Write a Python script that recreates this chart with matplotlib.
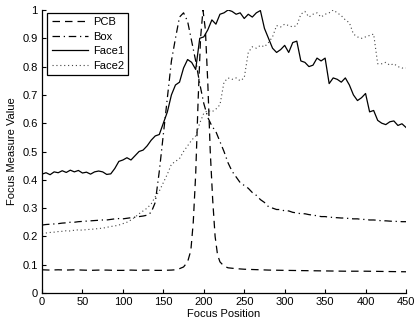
import numpy as np
import matplotlib
matplotlib.use("Agg")
import matplotlib.pyplot as plt

plt.rcParams['font.family'] = ['Liberation Sans', 'DejaVu Sans']

x = list(range(0, 451, 5))

pcb_x = [0, 10, 20, 30, 40, 50, 60, 70, 80, 90, 100, 110, 120, 130, 140, 150, 160,
         165, 170, 175, 180, 184, 187, 190, 193, 196, 199, 202, 205, 208, 211, 214,
         217, 220, 225, 230, 240, 250, 260, 280, 300, 325, 350, 375, 400, 425, 450]
pcb = [0.082, 0.081, 0.082, 0.081, 0.082, 0.081, 0.080, 0.081, 0.081, 0.080, 0.080,
       0.081, 0.080, 0.081, 0.080, 0.080, 0.081,
       0.082, 0.086, 0.092, 0.110, 0.150, 0.250, 0.420, 0.680, 0.900, 1.000, 0.930,
       0.740, 0.500, 0.330, 0.200, 0.135, 0.110, 0.095, 0.089, 0.086, 0.084, 0.083,
       0.081, 0.080, 0.079, 0.078, 0.077, 0.077, 0.076, 0.075]

box = [0.240, 0.242, 0.243, 0.244, 0.245, 0.247, 0.248, 0.250, 0.250, 0.252,
       0.253, 0.254, 0.255, 0.256, 0.257, 0.258, 0.258, 0.260, 0.262, 0.263,
       0.262, 0.264, 0.266, 0.268, 0.270, 0.272, 0.275, 0.285, 0.320, 0.430,
       0.560, 0.690, 0.820, 0.900, 0.975, 0.990, 0.960, 0.890, 0.820, 0.740,
       0.670, 0.620, 0.590, 0.570, 0.535, 0.500, 0.460, 0.430, 0.410, 0.390,
       0.380, 0.370, 0.355, 0.345, 0.330, 0.320, 0.305, 0.300, 0.295, 0.295,
       0.290, 0.290, 0.285, 0.283, 0.280, 0.280, 0.277, 0.275, 0.273, 0.270,
       0.270, 0.268, 0.267, 0.266, 0.265, 0.265, 0.263, 0.262, 0.262, 0.260,
       0.260, 0.258, 0.258, 0.257, 0.255, 0.255, 0.254, 0.253, 0.253, 0.252,
       0.252]

face1 = [0.420, 0.425, 0.418, 0.428, 0.425, 0.432, 0.426, 0.434, 0.428, 0.433,
         0.424, 0.427, 0.420, 0.428, 0.431, 0.428, 0.419, 0.421, 0.440, 0.465,
         0.470, 0.478, 0.470, 0.485, 0.500, 0.505, 0.520, 0.540, 0.555, 0.560,
         0.600, 0.640, 0.700, 0.735, 0.745, 0.795, 0.825, 0.815, 0.790, 0.900,
         0.905, 0.930, 0.965, 0.950, 0.985, 0.990, 1.000, 0.995, 0.985, 0.990,
         0.970, 0.985, 0.975, 0.990, 0.998, 0.935, 0.900, 0.865, 0.850, 0.860,
         0.875, 0.850, 0.885, 0.890, 0.820, 0.815, 0.800, 0.805, 0.830, 0.820,
         0.830, 0.740, 0.760, 0.755, 0.745, 0.760, 0.735, 0.700, 0.680, 0.690,
         0.705, 0.640, 0.645, 0.610, 0.600, 0.595, 0.605, 0.608, 0.592, 0.598,
         0.585]

face2 = [0.210, 0.212, 0.214, 0.215, 0.217, 0.218, 0.220, 0.219, 0.222, 0.223,
         0.222, 0.224, 0.225, 0.226, 0.228, 0.229, 0.232, 0.235, 0.237, 0.240,
         0.245, 0.250, 0.258, 0.268, 0.280, 0.290, 0.300, 0.315, 0.340, 0.360,
         0.390, 0.420, 0.455, 0.465, 0.475, 0.500, 0.520, 0.540, 0.555, 0.600,
         0.635, 0.645, 0.640, 0.650, 0.665, 0.745, 0.760, 0.755, 0.760, 0.750,
         0.760, 0.850, 0.870, 0.865, 0.875, 0.870, 0.885, 0.905, 0.945, 0.940,
         0.950, 0.945, 0.940, 0.945, 0.985, 0.995, 0.975, 0.985, 0.990, 0.975,
         0.985, 0.990, 1.000, 0.990, 0.980, 0.965, 0.955, 0.915, 0.905, 0.900,
         0.905, 0.910, 0.915, 0.810, 0.810, 0.815, 0.805, 0.810, 0.800, 0.795,
         0.795]

xticks = [0, 50, 100, 150, 200, 250, 300, 350, 400, 450]
yticks = [0, 0.1, 0.2, 0.3, 0.4, 0.5, 0.6, 0.7, 0.8, 0.9, 1]
ytick_labels = ['0', '0.1', '0.2', '0.3', '0.4', '0.5', '0.6', '0.7', '0.8', '0.9', '1']

fig = plt.figure(figsize=(4.16, 3.29), dpi=100)
ax = fig.add_axes([42/416, 36/329, 364/416, 283/329])

lw = 0.9
ax.plot(pcb_x, pcb, color='black', lw=lw, linestyle=(0, (6, 4)), label='PCB')
ax.plot(x, box, color='black', lw=lw, linestyle=(0, (6, 3, 1, 3)), label='Box')
ax.plot(x, face1, color='black', lw=lw, linestyle='-', label='Face1')
ax.plot(x, face2, color='#444444', lw=0.8, linestyle=(0, (1, 2.5)), label='Face2')

ax.set_xlim(0, 450)
ax.set_ylim(0, 1)
ax.set_xticks(xticks)
ax.set_yticks(yticks)
ax.set_yticklabels(ytick_labels)
ax.tick_params(direction='in', length=3, width=0.8, labelsize=8, pad=3)
for s in ['top', 'right']:
    ax.spines[s].set_visible(False)
for s in ['left', 'bottom']:
    ax.spines[s].set_linewidth(0.9)

ax.set_xlabel('Focus Position', fontsize=8, labelpad=1)
ax.set_ylabel('Focus Measure Value', fontsize=8, labelpad=4)

leg = ax.legend(loc='upper left', bbox_to_anchor=(0.014, 0.99), fontsize=8,
                frameon=True, fancybox=False, framealpha=1, edgecolor='black',
                handlelength=3.3, handletextpad=0.4, labelspacing=0.4,
                borderpad=0.4, borderaxespad=0)
leg.get_frame().set_linewidth(0.9)

fig.savefig('out.png', dpi=100)
